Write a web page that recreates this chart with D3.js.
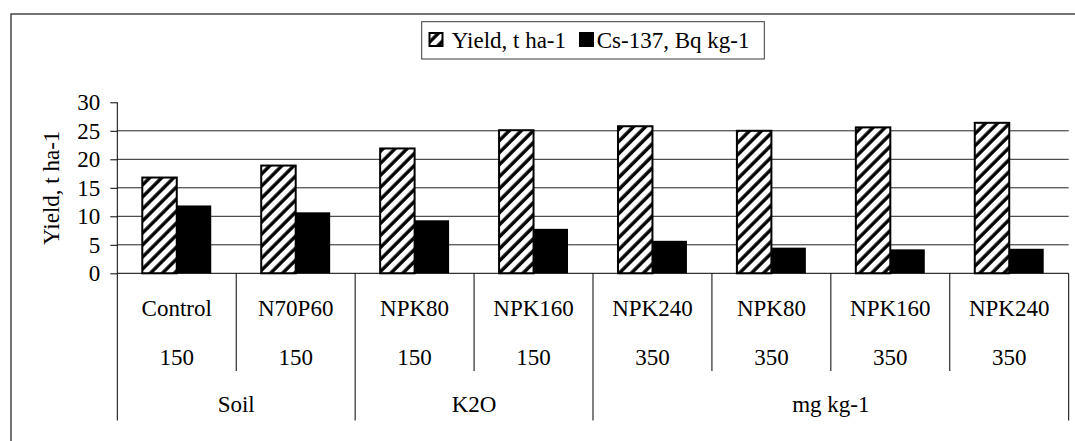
<!DOCTYPE html>
<html>
<head>
<meta charset="utf-8">
<script src="https://cdn.jsdelivr.net/npm/d3@7"></script>
<style>
  body { margin: 0; background: #fff; }
  svg text { font-family: "Liberation Serif", "Times New Roman", Times, "DejaVu Serif", serif; fill: #000; }
</style>
</head>
<body>
<svg id="chart" width="1075" height="441"></svg>
<script>
// chart data
var treatments = ["Control", "N70P60", "NPK80", "NPK160", "NPK240", "NPK80", "NPK160", "NPK240"];
var soilK2O = ["150", "150", "150", "150", "350", "350", "350", "350"];
var groupLabels = ["Soil", "K2O", "mg kg-1"];
var groupSpans = [2, 2, 4];
var yieldValues = [16.8, 18.9, 21.9, 25.1, 25.8, 25.0, 25.6, 26.4];
var csValues = [11.9, 10.7, 9.3, 7.8, 5.7, 4.5, 4.2, 4.3];
var yTicks = [0, 5, 10, 15, 20, 25, 30];

var serif = "'Liberation Serif', 'Times New Roman', Times, 'DejaVu Serif', serif";
var svg = d3.select("#chart");

// outer chart border (runs off the right and bottom edge)
svg.append("rect")
    .attr("x", 11).attr("y", 14)
    .attr("width", 1100).attr("height", 460)
    .attr("fill", "none")
    .attr("stroke", "#3a3a3a")
    .attr("stroke-width", 1.4);

// hatch pattern for the yield bars
var defs = svg.append("defs");
defs.append("pattern")
    .attr("id", "hatch")
    .attr("patternUnits", "userSpaceOnUse")
    .attr("width", 8.5).attr("height", 8.5)
    .attr("patternTransform", "rotate(45)")
    .call(function (p) {
        p.append("rect").attr("width", 8.5).attr("height", 8.5).attr("fill", "#fff");
        p.append("line")
            .attr("x1", 2).attr("y1", 0).attr("x2", 2).attr("y2", 8.5)
            .attr("stroke", "#000").attr("stroke-width", 3.4);
    });

// plot area
var plotLeft = 117.3, plotRight = 1068.7, plotTop = 102.3, zeroY = 273.3;

var xScale = d3.scaleBand()
    .domain(d3.range(treatments.length))
    .range([plotLeft, plotRight]);

var yScale = d3.scaleLinear()
    .domain([0, 30])
    .range([zeroY, plotTop]);

// gridlines (none at the top value)
svg.append("g")
    .selectAll("line")
    .data(yTicks.filter(function (d) { return d > 0 && d < 30; }))
    .enter().append("line")
    .attr("x1", plotLeft).attr("x2", plotRight)
    .attr("y1", function (d) { return yScale(d); })
    .attr("y2", function (d) { return yScale(d); })
    .attr("stroke", "#222")
    .attr("stroke-width", 1);

// bars
var barW = xScale.bandwidth() / 3.45;
var bars = svg.append("g");
bars.selectAll("rect.yield")
    .data(yieldValues)
    .enter().append("rect")
    .attr("class", "yield")
    .attr("x", function (d, i) { return xScale(i) + xScale.bandwidth() / 2 - barW; })
    .attr("y", function (d) { return yScale(d); })
    .attr("width", barW)
    .attr("height", function (d) { return zeroY - yScale(d); })
    .attr("fill", "url(#hatch)")
    .attr("stroke", "#000")
    .attr("stroke-width", 2);

bars.selectAll("rect.cs")
    .data(csValues)
    .enter().append("rect")
    .attr("class", "cs")
    .attr("x", function (d, i) { return xScale(i) + xScale.bandwidth() / 2; })
    .attr("y", function (d) { return yScale(d); })
    .attr("width", barW)
    .attr("height", function (d) { return zeroY - yScale(d); })
    .attr("fill", "#000");

// y axis
var yAxis = d3.axisLeft(yScale)
    .tickValues(yTicks)
    .tickSize(7)
    .tickPadding(10)
    .tickFormat(d3.format("d"));

var yAxisG = svg.append("g")
    .attr("transform", "translate(" + plotLeft + ",0)")
    .call(yAxis)
    .attr("font-family", serif)
    .attr("font-size", 23);
yAxisG.select(".domain").remove();
yAxisG.selectAll(".tick line").attr("stroke", "#000");
yAxisG.append("line")
    .attr("x1", 0).attr("x2", 0)
    .attr("y1", plotTop).attr("y2", zeroY)
    .attr("stroke", "#000");

svg.append("text")
    .attr("transform", "translate(59," + ((plotTop + zeroY) / 2) + ") rotate(-90)")
    .attr("text-anchor", "middle")
    .attr("font-family", serif)
    .attr("font-size", 23)
    .text("Yield, t ha-1");

// category axis: zero line and multi-level labels
svg.append("line")
    .attr("x1", plotLeft).attr("x2", plotRight)
    .attr("y1", zeroY).attr("y2", zeroY)
    .attr("stroke", "#000");

var shortEnd = 371, longEnd = 420.5;
var groupStarts = [0];
groupSpans.forEach(function (s, i) { groupStarts.push(groupStarts[i] + s); });

var sepG = svg.append("g");
d3.range(treatments.length + 1).forEach(function (i) {
    var x = i < treatments.length ? xScale(i) : plotRight;
    var isGroup = groupStarts.indexOf(i) >= 0;
    sepG.append("line")
        .attr("x1", x).attr("x2", x)
        .attr("y1", zeroY)
        .attr("y2", isGroup ? longEnd : shortEnd)
        .attr("stroke", "#000")
        .attr("stroke-width", 1);
});

var labG = svg.append("g")
    .attr("font-family", serif)
    .attr("font-size", 23)
    .attr("text-anchor", "middle");

labG.selectAll("text.treat")
    .data(treatments)
    .enter().append("text")
    .attr("class", "treat")
    .attr("x", function (d, i) { return xScale(i) + xScale.bandwidth() / 2; })
    .attr("y", 307.7)
    .attr("dy", "0.34em")
    .text(function (d) { return d; });

labG.selectAll("text.k2o")
    .data(soilK2O)
    .enter().append("text")
    .attr("class", "k2o")
    .attr("x", function (d, i) { return xScale(i) + xScale.bandwidth() / 2; })
    .attr("y", 356.7)
    .attr("dy", "0.34em")
    .text(function (d) { return d; });

labG.selectAll("text.grp")
    .data(groupLabels)
    .enter().append("text")
    .attr("class", "grp")
    .attr("x", function (d, i) {
        var a = xScale(groupStarts[i]);
        var endIdx = groupStarts[i + 1];
        var b = endIdx < treatments.length ? xScale(endIdx) : plotRight;
        return (a + b) / 2;
    })
    .attr("y", 404)
    .attr("dy", "0.34em")
    .text(function (d) { return d; });

// legend
var legend = svg.append("g")
    .attr("font-family", serif)
    .attr("font-size", 23);
legend.append("rect")
    .attr("x", 421.7).attr("y", 21.7)
    .attr("width", 342.6).attr("height", 37.3)
    .attr("fill", "#fff")
    .attr("stroke", "#3a3a3a")
    .attr("stroke-width", 1);
legend.append("rect")
    .attr("x", 429.5).attr("y", 33)
    .attr("width", 13).attr("height", 13)
    .attr("fill", "url(#hatch)")
    .attr("stroke", "#000")
    .attr("stroke-width", 2);
legend.append("text")
    .attr("x", 451.7).attr("y", 47.5)
    .text("Yield, t ha-1");
legend.append("rect")
    .attr("x", 579).attr("y", 32)
    .attr("width", 15).attr("height", 15)
    .attr("fill", "#000");
legend.append("text")
    .attr("x", 596.7).attr("y", 47.5)
    .text("Cs-137, Bq kg-1");
</script>
</body>
</html>
